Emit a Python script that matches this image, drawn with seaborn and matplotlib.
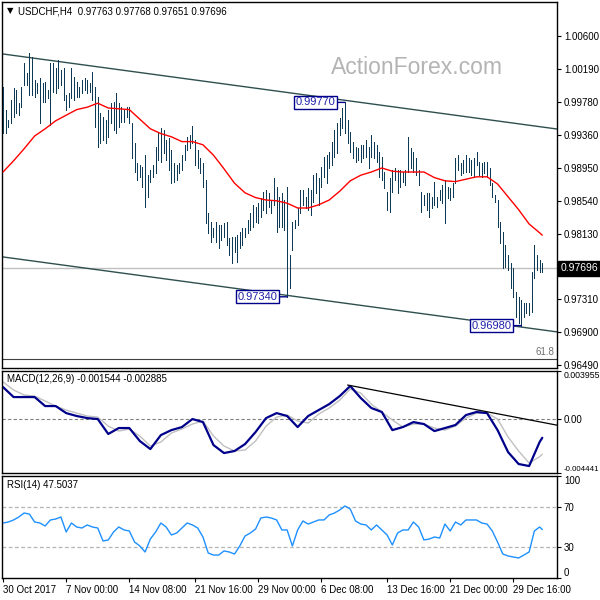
import numpy as np
import pandas as pd
import matplotlib
matplotlib.use("Agg")
import matplotlib.pyplot as plt
import matplotlib.transforms as mtransforms
import seaborn as sns

# USDCHF H4 bars, 30 Oct - 29 Dec 2017
bar_high = [
    0.9996, 0.9968, 0.9955, 0.9980, 0.9995, 0.9993, 0.9976, 0.9996, 1.0026, 1.0014,
    1.0039, 1.0034, 1.0005, 1.0001, 1.0008, 1.0001, 1.0003, 0.9993, 1.0026, 1.0026,
    1.0020, 1.0030, 1.0018, 1.0020, 0.9986, 0.9989, 1.0020, 1.0009, 1.0003, 0.9996,
    1.0005, 1.0008, 1.0005, 1.0001, 1.0015, 0.9996, 0.9984, 0.9964, 0.9959, 0.9955,
    0.9968, 0.9976, 0.9978, 0.9989, 0.9976, 0.9971, 0.9968, 0.9971, 0.9971, 0.9951,
    0.9926, 0.9901, 0.9899, 0.9896, 0.9911, 0.9886, 0.9893, 0.9899, 0.9921, 0.9939,
    0.9945, 0.9943, 0.9930, 0.9933, 0.9918, 0.9901, 0.9899, 0.9901, 0.9911, 0.9924,
    0.9934, 0.9936, 0.9948, 0.9930, 0.9918, 0.9908, 0.9901, 0.9880, 0.9839, 0.9828,
    0.9820, 0.9828, 0.9824, 0.9824, 0.9826, 0.9828, 0.9808, 0.9809, 0.9809, 0.9811,
    0.9815, 0.9820, 0.9820, 0.9830, 0.9839, 0.9849, 0.9846, 0.9851, 0.9858, 0.9865,
    0.9868, 0.9864, 0.9855,
    0.9883, 0.9871, 0.9859, 0.9864, 0.9855, 0.9871, 0.9786, 0.9828, 0.9830, 0.9845,
    0.9868, 0.9868, 0.9859, 0.9870, 0.9868, 0.9886, 0.9889, 0.9883, 0.9896, 0.9909,
    0.9911, 0.9915, 0.9928, 0.9943, 0.9951, 0.9958, 0.9970, 0.9977, 0.9955, 0.9940,
    0.9928, 0.9921, 0.9920, 0.9924, 0.9924, 0.9930, 0.9921, 0.9936, 0.9928, 0.9924,
    0.9915, 0.9909, 0.9890, 0.9865, 0.9883, 0.9893, 0.9895, 0.9893, 0.9893, 0.9890,
    0.9893, 0.9934, 0.9920, 0.9915, 0.9908, 0.9893, 0.9865, 0.9861, 0.9864, 0.9864,
    0.9859, 0.9878, 0.9859, 0.9868, 0.9874, 0.9880, 0.9871, 0.9870, 0.9876, 0.9908,
    0.9911, 0.9901, 0.9905, 0.9911, 0.9908, 0.9905, 0.9908, 0.9915, 0.9903, 0.9901,
    0.9903, 0.9903, 0.9895, 0.9876, 0.9861, 0.9855, 0.9828, 0.9815, 0.9799, 0.9786,
    0.9776, 0.9770, 0.9740, 0.9734, 0.9730, 0.9726, 0.9726, 0.9726, 0.9765, 0.9799,
    0.9786, 0.9780, 0.97768,
]
bar_low = [
    0.9939, 0.9939, 0.9946, 0.9951, 0.9959, 0.9964, 0.9961, 0.9971, 0.9999, 0.9999,
    0.9986, 0.9986, 0.9984, 0.9989, 0.9951, 0.9978, 0.9978, 0.9983, 0.9949, 0.9990,
    0.9989, 0.9995, 0.9999, 0.9980, 0.9968, 0.9971, 0.9983, 0.9980, 0.9984, 0.9984,
    0.9989, 0.9993, 0.9989, 0.9990, 0.9980, 0.9946, 0.9921, 0.9926, 0.9930, 0.9926,
    0.9934, 0.9951, 0.9943, 0.9939, 0.9946, 0.9953, 0.9953, 0.9959, 0.9951, 0.9908,
    0.9890, 0.9880, 0.9884, 0.9871, 0.9846, 0.9859, 0.9878, 0.9884, 0.9889, 0.9905,
    0.9903, 0.9914, 0.9905, 0.9893, 0.9876, 0.9878, 0.9880, 0.9889, 0.9893, 0.9905,
    0.9918, 0.9920, 0.9926, 0.9899, 0.9895, 0.9889, 0.9871, 0.9826, 0.9814, 0.9803,
    0.9809, 0.9803, 0.9795, 0.9805, 0.9809, 0.9799, 0.9786, 0.9776, 0.9790, 0.9778,
    0.9795, 0.9799, 0.9809, 0.9814, 0.9818, 0.9821, 0.9828, 0.9826, 0.9834, 0.9843,
    0.9839, 0.9846, 0.9839,
    0.9849, 0.9815, 0.9821, 0.9821, 0.9818, 0.9734, 0.9745, 0.9793, 0.9820, 0.9824,
    0.9839, 0.9849, 0.9845, 0.9843, 0.9836, 0.9853, 0.9864, 0.9849, 0.9871, 0.9884,
    0.9876, 0.9895, 0.9899, 0.9909, 0.9914, 0.9936, 0.9945, 0.9939, 0.9926, 0.9915,
    0.9908, 0.9903, 0.9905, 0.9903, 0.9908, 0.9909, 0.9895, 0.9909, 0.9908, 0.9903,
    0.9884, 0.9880, 0.9870, 0.9843, 0.9840, 0.9865, 0.9880, 0.9864, 0.9871, 0.9878,
    0.9874, 0.9890, 0.9895, 0.9890, 0.9886, 0.9874, 0.9840, 0.9849, 0.9843, 0.9834,
    0.9845, 0.9849, 0.9846, 0.9855, 0.9851, 0.9826, 0.9858, 0.9855, 0.9859, 0.9876,
    0.9893, 0.9886, 0.9889, 0.9890, 0.9890, 0.9886, 0.9884, 0.9899, 0.9886, 0.9884,
    0.9889, 0.9884, 0.9874, 0.9859, 0.9853, 0.9821, 0.9801, 0.9770, 0.9771, 0.9768,
    0.9745, 0.9734, 0.9709, 0.9701, 0.9698, 0.9709, 0.9714, 0.9711, 0.9715, 0.9758,
    0.9768, 0.9765, 0.97651,
]
last_open, last_close = 0.97763, 0.97696

# indicator readings, every 4th bar (plus the last bar)
ind_bar = list(range(0, 205, 4)) + [205]
ma_vals = [
    0.9890, 0.9904, 0.9919, 0.9935, 0.9944, 0.9954, 0.9961, 0.9968, 0.9971, 0.9976,
    0.9970, 0.9969, 0.9968, 0.9956, 0.9944, 0.9938, 0.9934, 0.9928, 0.9928, 0.9924,
    0.9911, 0.9894, 0.9876, 0.9864, 0.9858, 0.9855, 0.9854, 0.9851, 0.9845, 0.9845,
    0.9849, 0.9855, 0.9866, 0.9879, 0.9886, 0.9890, 0.9895, 0.9891, 0.9890, 0.9890,
    0.9890, 0.9883, 0.9879, 0.9878, 0.9881, 0.9884, 0.9884, 0.9875, 0.9859, 0.9843,
    0.9825, 0.9814, 0.9811,
]
macd_main = [
    0.00263, 0.00181, 0.00181, 0.00181, 0.00107, 0.00107, 0.00049, 0.00025, 0.00008, 0.0,
    -0.00123, -0.00074, -0.00074, -0.00181, -0.00247, -0.00132, -0.00091, -0.00066, 0.0, -0.00025,
    -0.00214, -0.00280, -0.00263, -0.00206, -0.00107, 0.00008, 0.00049, 0.00025, -0.00066, 0.00025,
    0.00074, 0.00123, 0.00189, 0.00272, 0.00173, 0.00091, 0.00058, -0.00091, -0.00066, -0.00025,
    -0.00041, -0.00099, -0.00074, -0.00049, 0.00033, 0.00058, 0.00049, -0.00091, -0.00272, -0.00370,
    -0.00387, -0.00189, -0.001544,
]
macd_signal = [
    0.00305, 0.00239, 0.00198, 0.00189, 0.00148, 0.00107, 0.00074, 0.00049, 0.00025, 0.00016,
    -0.00058, -0.00099, -0.00082, -0.00140, -0.00222, -0.00189, -0.00115, -0.00082, -0.00041, -0.00016,
    -0.00140, -0.00222, -0.00263, -0.00255, -0.00181, -0.00058, 0.00016, 0.00033, -0.00016, -0.00033,
    0.00041, 0.00091, 0.00156, 0.00247, 0.00214, 0.00123, 0.00058, -0.00008, -0.00066, -0.00041,
    -0.00041, -0.00074, -0.00091, -0.00058, 0.00008, 0.00049, 0.00049, 0.0, -0.00148, -0.00263,
    -0.00362, -0.00310, -0.002885,
]

# RSI(14), every 2nd bar (plus the last bar)
rsi_bar = list(range(0, 205, 2)) + [205]
rsi_vals = [
    53.9, 54.9, 56.9, 59.8, 63.7, 62.7, 54.9, 53.9, 51.0, 56.9,
    57.8, 59.8, 45.1, 53.9, 50.0, 49.0, 52.0, 50.0, 49.0, 36.3,
    37.3, 45.1, 50.0, 47.1, 46.1, 35.3, 31.4, 25.5, 38.2, 45.1,
    53.9, 50.0, 42.2, 44.1, 49.0, 53.9, 52.0, 49.0, 40.2, 24.5,
    22.5, 22.5, 26.5, 25.5, 23.5, 31.4, 41.2, 44.1, 48.0, 58.8,
    59.8, 58.8, 56.9, 47.1, 47.1, 31.4, 47.1, 55.9, 52.9, 54.9,
    56.9, 56.9, 61.8, 63.7, 66.7, 70.6, 67.6, 55.9, 52.9, 52.0,
    47.1, 52.0, 47.1, 42.2, 32.4, 44.1, 47.1, 47.1, 54.9, 50.0,
    37.3, 38.2, 40.2, 39.2, 52.9, 46.1, 54.9, 52.0, 56.9, 56.9,
    56.9, 53.9, 52.9, 46.1, 35.3, 23.5, 21.6, 20.6, 19.6, 22.5,
    25.5, 46.1, 50.0, 47.5037,
]

# drawn objects: channel, MACD trend line, swing labels, fibo level
channel_bar = [0, 210]
channel_upper = [1.00375, 0.99440]
channel_lower = [0.97838, 0.96904]
macd_trend_bar = [131, 211]
macd_trend_val = [0.0028, -0.00052]
swing_bar = [130, 108, 197]
swing_price = [0.99770, 0.97340, 0.96980]
fibo_level = 0.96563

price_ticks = [1.00600, 1.00190, 0.99780, 0.99360, 0.98950, 0.98540,
               0.98130, 0.97310, 0.96900, 0.96490]
date_bar = [0, 24, 48, 73, 97, 121, 146, 170, 194]
date_labels = ["30 Oct 2017", "7 Nov 00:00", "14 Nov 08:00", "21 Nov 16:00",
               "29 Nov 00:00", "6 Dec 08:00", "13 Dec 16:00", "21 Dec 00:00",
               "29 Dec 16:00"]

bars = pd.DataFrame({"bar": np.arange(len(bar_high)), "high": bar_high, "low": bar_low})
ind = pd.DataFrame({"bar": ind_bar, "ma": ma_vals, "macd": macd_main, "signal": macd_signal})
rsi = pd.DataFrame({"bar": rsi_bar, "rsi": rsi_vals})

sns.set_style("white")
plt.rcParams["font.family"] = ["Liberation Sans", "DejaVu Sans"]

BAR = "#0e3a56"
SLATE = "#2f4f4f"

fig = plt.figure(figsize=(6, 6), dpi=100)
W = 600.0
ax_p = fig.add_axes([2 / W, 1 - 368 / W, 555 / W, 366 / W])
ax_m = fig.add_axes([2 / W, 1 - 473 / W, 555 / W, 102 / W])
ax_r = fig.add_axes([2 / W, 1 - 578 / W, 555 / W, 102 / W])
xlim = (-0.4, 210.6)

# ---- price panel ----
ax_p.axhline(last_close, color="#c0c0c0", lw=1, zorder=1)
ax_p.axhline(fibo_level, color="#404040", lw=0.8, zorder=1)
ax_p.vlines(bars["bar"], bars["low"], bars["high"], color=BAR, lw=0.72,
            antialiased=False, zorder=3)
sns.lineplot(data=ind, x="bar", y="ma", ax=ax_p, color="red", lw=1, estimator=None, zorder=4)
ax_p.axline((channel_bar[0], channel_upper[0]), (channel_bar[1], channel_upper[1]),
            color=SLATE, lw=1, zorder=2)
ax_p.axline((channel_bar[0], channel_lower[0]), (channel_bar[1], channel_lower[1]),
            color=SLATE, lw=1, zorder=2)
for b, p in zip(swing_bar, swing_price):
    ax_p.annotate(f"{p:.5f}", xy=(b, p), xytext=(-7, 0), textcoords="offset points",
                  ha="right", va="center", fontsize=8, color="#2020a8", zorder=6,
                  bbox=dict(boxstyle="square,pad=0.12", fc="white", ec="#00008b", lw=1),
                  arrowprops=dict(arrowstyle="-", color="#00008b", lw=1,
                                  shrinkA=0, shrinkB=0))
ax_p.set_xlim(*xlim)
ax_p.set_ylim(0.9645, 1.01025)
ax_p.set_xticks([])
ax_p.yaxis.tick_right()
ax_p.set_yticks(price_ticks)
ax_p.set_yticklabels([f"{t:.5f}" for t in price_ticks])
blend_p = mtransforms.blended_transform_factory(ax_p.transAxes, ax_p.transData)
ax_p.text(1.006, last_close, f"{last_close:.5f}", transform=blend_p, ha="left",
          va="center", fontsize=7.5, color="white", clip_on=False,
          bbox=dict(boxstyle="square,pad=0.25", fc="black", ec="black"))
ax_p.text(0.996, fibo_level + 0.0002, "61.8", transform=blend_p, ha="right",
          va="bottom", fontsize=7, color="#707070")

# ---- MACD panel ----
ax_m.axhline(0, color="#808080", lw=0.8, ls=(0, (3, 2)))
sns.lineplot(data=ind, x="bar", y="signal", ax=ax_m, color="#c0c0c0", lw=1, estimator=None)
sns.lineplot(data=ind, x="bar", y="macd", ax=ax_m, color="#00008b", lw=1.6, estimator=None)
ax_m.plot(macd_trend_bar, macd_trend_val, color="black", lw=0.9)
ax_m.set_xlim(*xlim)
ax_m.set_ylim(-0.004441, 0.003955)
ax_m.set_xticks([])
ax_m.yaxis.tick_right()
ax_m.set_yticks([0.003955, 0.0, -0.004441])
ax_m.set_yticklabels(["0.003955", "0.00", "-0.004441"])

# ---- RSI panel ----
for lvl in (70, 30):
    ax_r.axhline(lvl, color="#b4b4b4", lw=0.9, ls=(0, (3, 2)))
sns.lineplot(data=rsi, x="bar", y="rsi", ax=ax_r, color="#1e90ff", lw=1, estimator=None)
ax_r.set_xlim(*xlim)
ax_r.set_ylim(0, 100)
ax_r.yaxis.tick_right()
ax_r.set_yticks([100, 70, 30, 0])
ax_r.set_yticklabels(["100", "70", "30", "0"])
ax_r.set_xticks(date_bar)
ax_r.set_xticklabels(date_labels)
for lab in ax_r.get_xticklabels():
    lab.set_horizontalalignment("left")

for ax in (ax_p, ax_m, ax_r):
    ax.set_xlabel("")
    ax.set_ylabel("")
    for s in ax.spines.values():
        s.set_color("black")
        s.set_linewidth(1)
    ax.tick_params(axis="y", direction="out", length=3, width=0.8, pad=2,
                   labelsize=7, colors="black", right=True, left=False)
ax_r.tick_params(axis="x", direction="out", length=3, width=0.8, pad=2,
                 labelsize=7, colors="black", bottom=True)
ax_m.tick_params(axis="y", pad=1.5)

# edge labels of the indicator panels sit inside the panel, a bit smaller
mlabs = ax_m.get_yticklabels()
mlabs[0].set_va("top")
mlabs[0].set_fontsize(6.3)
mlabs[2].set_va("bottom")
mlabs[2].set_fontsize(5.7)
rlabs = ax_r.get_yticklabels()
rlabs[0].set_va("top")
rlabs[3].set_va("bottom")

# ---- texts ----
fig.text(7 / W, 1 - 11 / W, "\u25bc", fontsize=6, color="black", va="center",
         family=["DejaVu Sans"])
fig.text(18 / W, 1 - 11 / W, "USDCHF,H4  0.97763 0.97768 0.97651 0.97696",
         fontsize=7, color="black", va="center")
fig.text(417 / W, 1 - 67 / W, "ActionForex.com", fontsize=16.5, color="#b4b4b4",
         ha="center", va="center")
fig.text(7 / W, 1 - 379 / W, "MACD(12,26,9) -0.001544 -0.002885", fontsize=7,
         color="black", va="center")
fig.text(7 / W, 1 - 485 / W, "RSI(14) 47.5037", fontsize=7, color="black", va="center")

fig.savefig("out.png", dpi=100, facecolor="white")
